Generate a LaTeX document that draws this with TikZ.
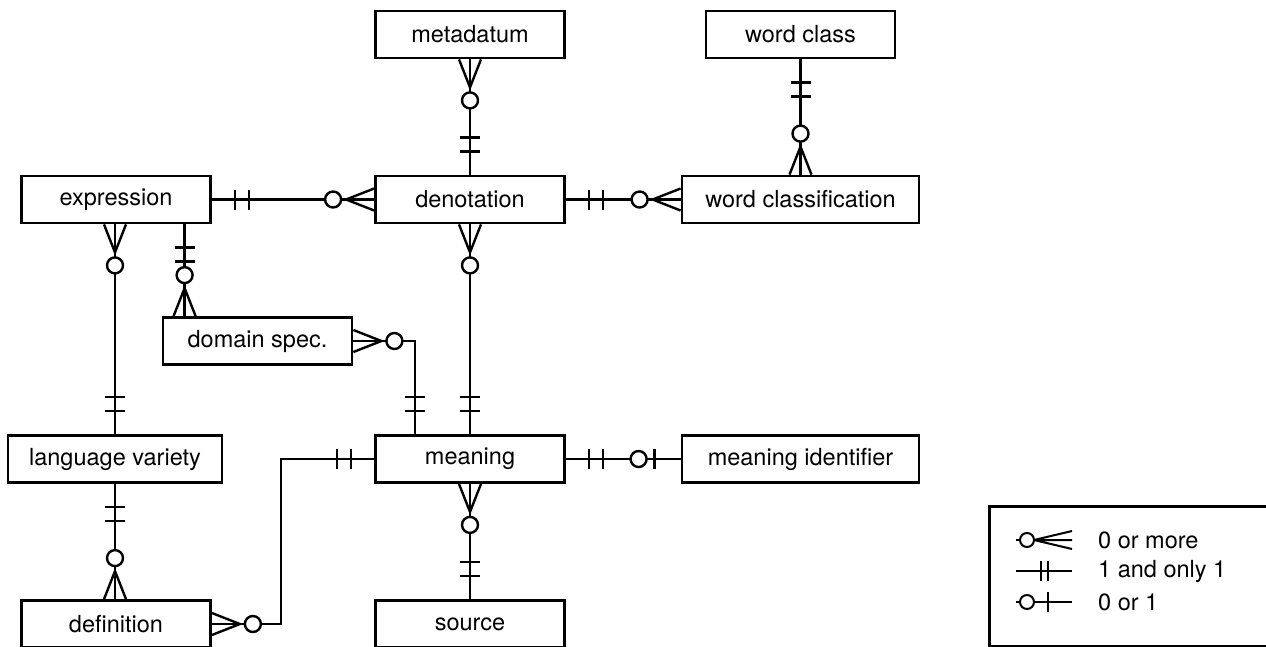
\documentclass[tikz,border=0pt]{standalone}
\usepackage{fontspec}
\setmainfont{TeX Gyre Heros}
\usetikzlibrary{calc}
\tikzset{
  % entiteter
  ent/.style={draw,line width=2.8pt,minimum width=189pt,minimum height=47pt,
              inner sep=0pt,font=\fontsize{23.5}{28}\selectfont},
  wide/.style={minimum width=237pt},
  rel/.style={draw,line width=2.4pt},
  crw/.style={line width=2.4pt},
  lbl/.style={anchor=west,inner sep=0pt,font=\fontsize{23.5}{28}\selectfont},
  % kardinalitet, +x pekar bort fran boxen
  crowmany/.pic={\draw[crw] (28,0) -- (0,11) (28,0) -- (0,-11);
                 \draw[crw,fill=white] (41,0) circle[radius=8pt];},
  crowone/.pic={\draw[crw] (23,-10) -- (23,10) (37,-10) -- (37,10);},
  crowopt/.pic={\draw[crw] (26,-10) -- (26,10);
                \draw[crw,fill=white] (42,0) circle[radius=8pt];},
  % legend
  legline/.style={draw,line width=2pt},
}
\begin{document}
\begin{tikzpicture}[x=1pt,y=-1pt]
\useasboundingbox (0,0) rectangle (1266,646);
  \node[ent] (metadatum) at (470,34.5) {metadatum};
  \node[ent] (wclass) at (800.5,34.5) {word class};
  \node[ent] (expr) at (116,199.5) {expression};
  \node[ent] (denot) at (470,199.5) {denotation};
  \node[ent,wide] (wclassif) at (800.5,199.5) {word classification};
  \node[ent] (domspec) at (257.5,341) {domain spec.};
  \node[ent,minimum width=214pt] (langvar) at (115,459) {language variety};
  \node[ent] (meaning) at (470,459) {meaning};
  \node[ent,wide] (meaningid) at (800.5,459) {meaning identifier};
  \node[ent] (defn) at (116,624) {definition};
  \node[ent] (source) at (470,624) {source};
  \coordinate (dsx) at ($(domspec.north west)+(23,0)$);
  \coordinate (mx) at ($(meaning.north west)+(41,0)$);
  % relationer
  \draw[rel] (expr.east) -- (denot.west);
  \draw[rel] (denot.east) -- (wclassif.west);
  \draw[rel] (metadatum.south) -- (denot.north);
  \draw[rel] (wclass.south) -- (wclassif.north);
  \draw[rel] (expr.south -| langvar.north) -- (langvar.north);
  \draw[rel] (expr.south -| dsx) -- (dsx);
  \draw[rel] (domspec.east) -| (mx);
  \draw[rel] (denot.south) -- (meaning.north);
  \draw[rel] (langvar.south) -- (defn.north -| langvar.south);
  \draw[rel] (defn.east) -- ++(69,0) |- (meaning.west);
  \draw[rel] (meaning.south) -- (source.north);
  \draw[rel] (meaning.east) -- (meaningid.west);
  % kardinaliteter
  \pic at (expr.east) {crowone};
  \pic[rotate=180] at (denot.west) {crowmany};
  \pic at (denot.east) {crowone};
  \pic[rotate=180] at (wclassif.west) {crowmany};
  \pic[rotate=-90] at (metadatum.south) {crowmany};
  \pic[rotate=90] at (denot.north) {crowone};
  \pic[rotate=-90] at (wclass.south) {crowone};
  \pic[rotate=90] at (wclassif.north) {crowmany};
  \pic[rotate=-90] at (expr.south -| langvar.north) {crowmany};
  \pic[rotate=90] at (langvar.north) {crowone};
  \pic[rotate=-90] at (expr.south -| dsx) {crowone};
  \pic[rotate=90] at (dsx) {crowmany};
  \pic at (domspec.east) {crowmany};
  \pic[rotate=90] at (mx) {crowone};
  \pic[rotate=-90] at (denot.south) {crowmany};
  \pic[rotate=90] at (meaning.north) {crowone};
  \pic[rotate=-90] at (langvar.south) {crowone};
  \pic[rotate=90] at (defn.north -| langvar.south) {crowmany};
  \pic at (defn.east) {crowmany};
  \pic[rotate=180] at (meaning.west) {crowone};
  \pic[rotate=-90] at (meaning.south) {crowmany};
  \pic[rotate=90] at (source.north) {crowone};
  \pic at (meaning.east) {crowone};
  \pic[rotate=180] at (meaningid.west) {crowopt};
  % legend
  \node[draw,line width=2.8pt,anchor=north west,minimum width=420pt,
        minimum height=140pt] (legend) at (988,505) {};
  \coordinate (r1) at ($(legend.north west)+(28,35)$);
  \coordinate (r2) at ($(r1)+(0,31)$);
  \coordinate (r3) at ($(r2)+(0,31)$);
  \draw[legline] (r1) -- ++(4,0);
  \draw[legline] ($(r1)+(11,0)$) circle[radius=7pt];
  \draw[legline] ($(r1)+(18,0)$) -- ++(38,0) ($(r1)+(18,0)$) -- ++(38,-9)
                 ($(r1)+(18,0)$) -- ++(38,9);
  \draw[legline] (r2) -- ++(56,0);
  \draw[legline] ($(r2)+(25,-10)$) -- ++(0,20) ($(r2)+(32,-10)$) -- ++(0,20);
  \draw[legline] (r3) -- ++(4,0);
  \draw[legline] ($(r3)+(11,0)$) circle[radius=7pt];
  \draw[legline] ($(r3)+(18,0)$) -- ++(38,0) ($(r3)+(32,-10)$) -- ++(0,20);
  \node[lbl] (t1) at ($(r1)+(82,0)$) {0 or more};
  \node[lbl] (t2) at ($(r2)+(82,0)$) {1 and only 1};
  \node[lbl] (t3) at ($(r3)+(82,0)$) {0 or 1};
\end{tikzpicture}
\end{document}
